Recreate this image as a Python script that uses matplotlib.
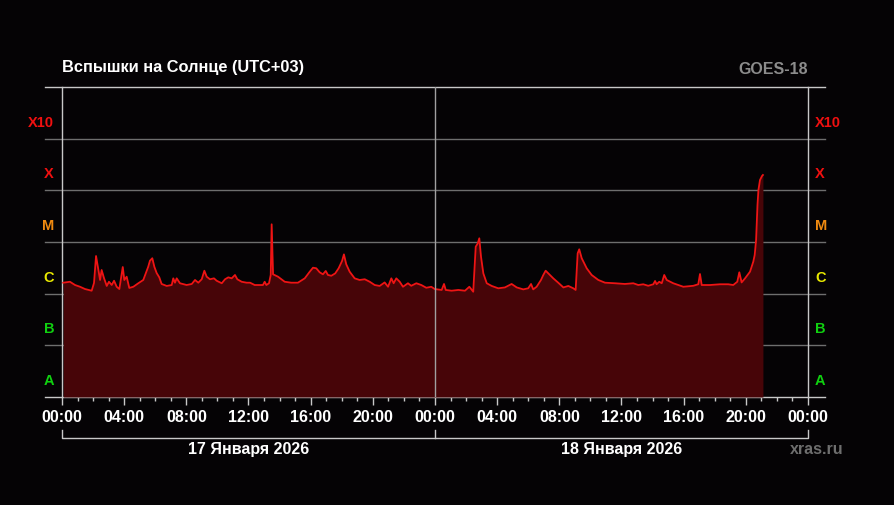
import numpy as np
import matplotlib
matplotlib.use("Agg")
import matplotlib.pyplot as plt
from matplotlib.ticker import MultipleLocator

plt.rcParams['font.family'] = ['Liberation Sans', 'DejaVu Sans']
plt.rcParams['font.weight'] = 'bold'

# hours since 17 Jan 00:00 (UTC+03)
hours = [0.08, 0.51, 0.84, 1.16, 1.48, 1.91, 2.06, 2.19, 2.34, 2.45, 2.55,
         2.70, 2.88, 3.02, 3.20, 3.35, 3.52, 3.69, 3.91, 4.01, 4.16, 4.33,
         4.59, 4.91, 5.23, 5.40, 5.55, 5.66, 5.81, 5.94, 6.09, 6.26, 6.41,
         6.74, 7.06, 7.16, 7.27, 7.38, 7.59, 8.02, 8.35, 8.56, 8.77, 8.99,
         9.16, 9.31, 9.52, 9.78, 9.95, 10.28, 10.49, 10.70, 10.92, 11.13,
         11.28, 11.56, 11.88, 12.10, 12.40, 12.93, 13.04, 13.15, 13.32, 13.43,
         13.49, 13.58, 13.90, 14.33, 14.75, 15.18, 15.62, 15.94, 16.15, 16.36,
         16.58, 16.79, 16.97, 17.11, 17.33, 17.58, 17.80, 18.02, 18.14, 18.29,
         18.51, 18.83, 19.15, 19.48, 19.80, 20.12, 20.44, 20.76, 20.98, 21.19,
         21.34, 21.51, 21.73, 21.94, 22.26, 22.47, 22.80, 23.12, 23.44, 23.76,
         23.98, 24.43, 24.58, 24.69, 25.07, 25.50, 25.93, 26.21, 26.46, 26.62,
         26.75, 26.85, 26.96, 27.11, 27.33, 27.65, 28.07, 28.50, 28.93, 29.26,
         29.68, 30.00, 30.18, 30.32, 30.54, 30.82, 30.97, 31.12, 31.29, 31.61,
         31.93, 32.26, 32.58, 32.90, 33.05, 33.18, 33.28, 33.44, 33.76, 34.08,
         34.51, 34.94, 35.58, 36.22, 36.76, 37.08, 37.40, 37.72, 38.05, 38.16,
         38.26, 38.43, 38.59, 38.75, 38.91, 39.33, 39.98, 40.62, 40.94, 41.05,
         41.16, 41.69, 42.34, 42.87, 43.19, 43.45, 43.58, 43.73, 43.95, 44.27,
         44.48, 44.57, 44.66, 44.75, 44.81, 44.91, 45.04, 45.10]
# GOES-18 1-8 A X-ray flux, in units of 1e-6 W/m^2
flux_e6 = [1.63, 1.70, 1.47, 1.36, 1.23, 1.14, 1.61, 5.36, 2.87, 1.84, 2.87,
           2.01, 1.41, 1.70, 1.47, 1.78, 1.36, 1.23, 3.28, 1.84, 2.13, 1.29,
           1.36, 1.59, 1.84, 2.51, 3.33, 4.35, 4.85, 3.33, 2.51, 2.07, 1.54,
           1.41, 1.47, 1.98, 1.63, 1.98, 1.59, 1.47, 1.54, 1.84, 1.63, 1.90,
           2.78, 2.13, 1.90, 1.98, 1.78, 1.59, 1.90, 2.07, 1.98, 2.30,
           1.90, 1.70, 1.63, 1.63, 1.47, 1.47, 1.70, 1.47, 1.59, 2.30,
           22.0, 2.37, 2.13, 1.70, 1.63, 1.63, 1.98, 2.66, 3.18, 3.10,
           2.59, 2.37, 2.75, 2.30, 2.22, 2.47, 3.10, 4.29, 5.76, 3.70,
           2.66, 1.98, 1.84, 1.90, 1.70, 1.47, 1.41, 1.65, 1.36, 1.98,
           1.59, 1.98, 1.70, 1.36, 1.59, 1.42, 1.59, 1.47, 1.30, 1.36,
           1.23, 1.18, 1.54, 1.18, 1.14, 1.18, 1.14, 1.36, 1.09, 8.1,
           9.4, 11.8, 5.19, 2.47, 1.59, 1.41, 1.27, 1.32, 1.54, 1.32,
           1.21, 1.27, 1.54, 1.21, 1.36, 1.84, 2.30, 2.78, 2.47, 1.98,
           1.63, 1.32, 1.41, 1.27, 1.18, 6.05, 7.22, 4.85, 3.10, 2.30,
           1.84, 1.63, 1.59, 1.54, 1.59, 1.47, 1.52, 1.42, 1.52, 1.76,
           1.52, 1.70, 1.59, 2.30, 1.84, 1.59, 1.36, 1.42, 1.52, 2.40,
           1.47, 1.47, 1.52, 1.52, 1.47, 1.70, 2.59, 1.65, 1.98, 2.66,
           4.16, 5.6, 10.9, 52.0, 101.0, 158.0, 189.0, 198.0]

classes = ['A', 'B', 'C', 'M', 'X', 'X10']
class_colors = ['#10d010', '#10d010', '#e8e800', '#f08a10', '#f01010', '#f01010']
tick_hours = list(range(0, 49, 4))
tick_labels = ['%02d:00' % (h % 24) for h in tick_hours]
days = ['17 Января 2026', '18 Января 2026']

flux = np.array(flux_e6) * 1e-6

bg = '#050305'
fig = plt.figure(figsize=(8.95, 5.05), dpi=100, facecolor=bg)
ax = fig.add_axes([62 / 895, 108 / 505, 746 / 895, 310 / 505], facecolor=bg)
ax.set_yscale('log')
ax.set_xlim(0, 48)
ax.set_ylim(1e-8, 1e-2)

ax.fill_between(hours, flux, 1e-8, color='#470508', lw=0, zorder=2)
ax.plot(hours, flux, color='#ee1414', lw=1.3, zorder=3)

# decade lines stretching out past both axes
levels = [10.0 ** p for p in range(-8, -1)]
for i, lv in enumerate(levels):
    c = '#c8c8c8' if i in (0, len(levels) - 1) else '#6e6e6e'
    ax.plot([-17 / 15.54, 48 + 17 / 15.54], [lv, lv], color=c, lw=1,
            clip_on=False, zorder=1)
ax.axvline(24, color='#a0a0a0', lw=1, zorder=4)

for s in ('top', 'bottom'):
    ax.spines[s].set_visible(False)
for s in ('left', 'right'):
    ax.spines[s].set_color('#c8c8c8')
    ax.spines[s].set_linewidth(1)

ax.set_yticks([])
ax.minorticks_off()

ax.set_xticks(tick_hours)
ax.set_xticklabels(tick_labels)
ax.xaxis.set_minor_locator(MultipleLocator(1))
ax.tick_params(axis='x', which='major', length=6, width=1, color='#c8c8c8',
               labelcolor='white', labelsize=11.5, pad=3)
ax.tick_params(axis='x', which='minor', length=3, width=1, color='#c8c8c8')

# class letters sit just above each decade line
for i, (name, col) in enumerate(zip(classes, class_colors)):
    yc = 10.0 ** (-8 + i + 0.31)
    ax.text(-0.0107, yc, name, color=col, fontsize=10.5, fontweight='bold',
            ha='right', va='center', transform=ax.get_yaxis_transform())
    ax.text(1.0094, yc, name, color=col, fontsize=10.5, fontweight='bold',
            ha='left', va='center', transform=ax.get_yaxis_transform())

# day brackets under the time axis
tr = ax.get_xaxis_transform()
ax.plot([0, 0, 48, 48], [-0.106, -0.132, -0.132, -0.106], color='#c8c8c8',
        lw=1, transform=tr, clip_on=False)
ax.plot([24, 24], [-0.106, -0.132], color='#c8c8c8', lw=1, transform=tr,
        clip_on=False)
for i, d in enumerate(days):
    ax.text(12 + 24 * i, -0.170, d, color='white', fontsize=11.5,
            fontweight='bold', ha='center', va='center', transform=tr)

ax.text(0, 1.062, 'Вспышки на Солнце (UTC+03)', color='white', fontsize=11.8,
        fontweight='bold', ha='left', va='center', transform=ax.transAxes)
ax.text(1.0, 1.058, 'GOES-18', color='#8c8c8c', fontsize=11.5,
        fontweight='bold', ha='right', va='center', transform=ax.transAxes)
ax.text(1.011, -0.170, 'xras.ru', color='#6e6e6e', fontsize=11.5,
        fontweight='bold', ha='center', va='center', transform=ax.transAxes)

fig.savefig('out.png', dpi=100, facecolor=bg)
